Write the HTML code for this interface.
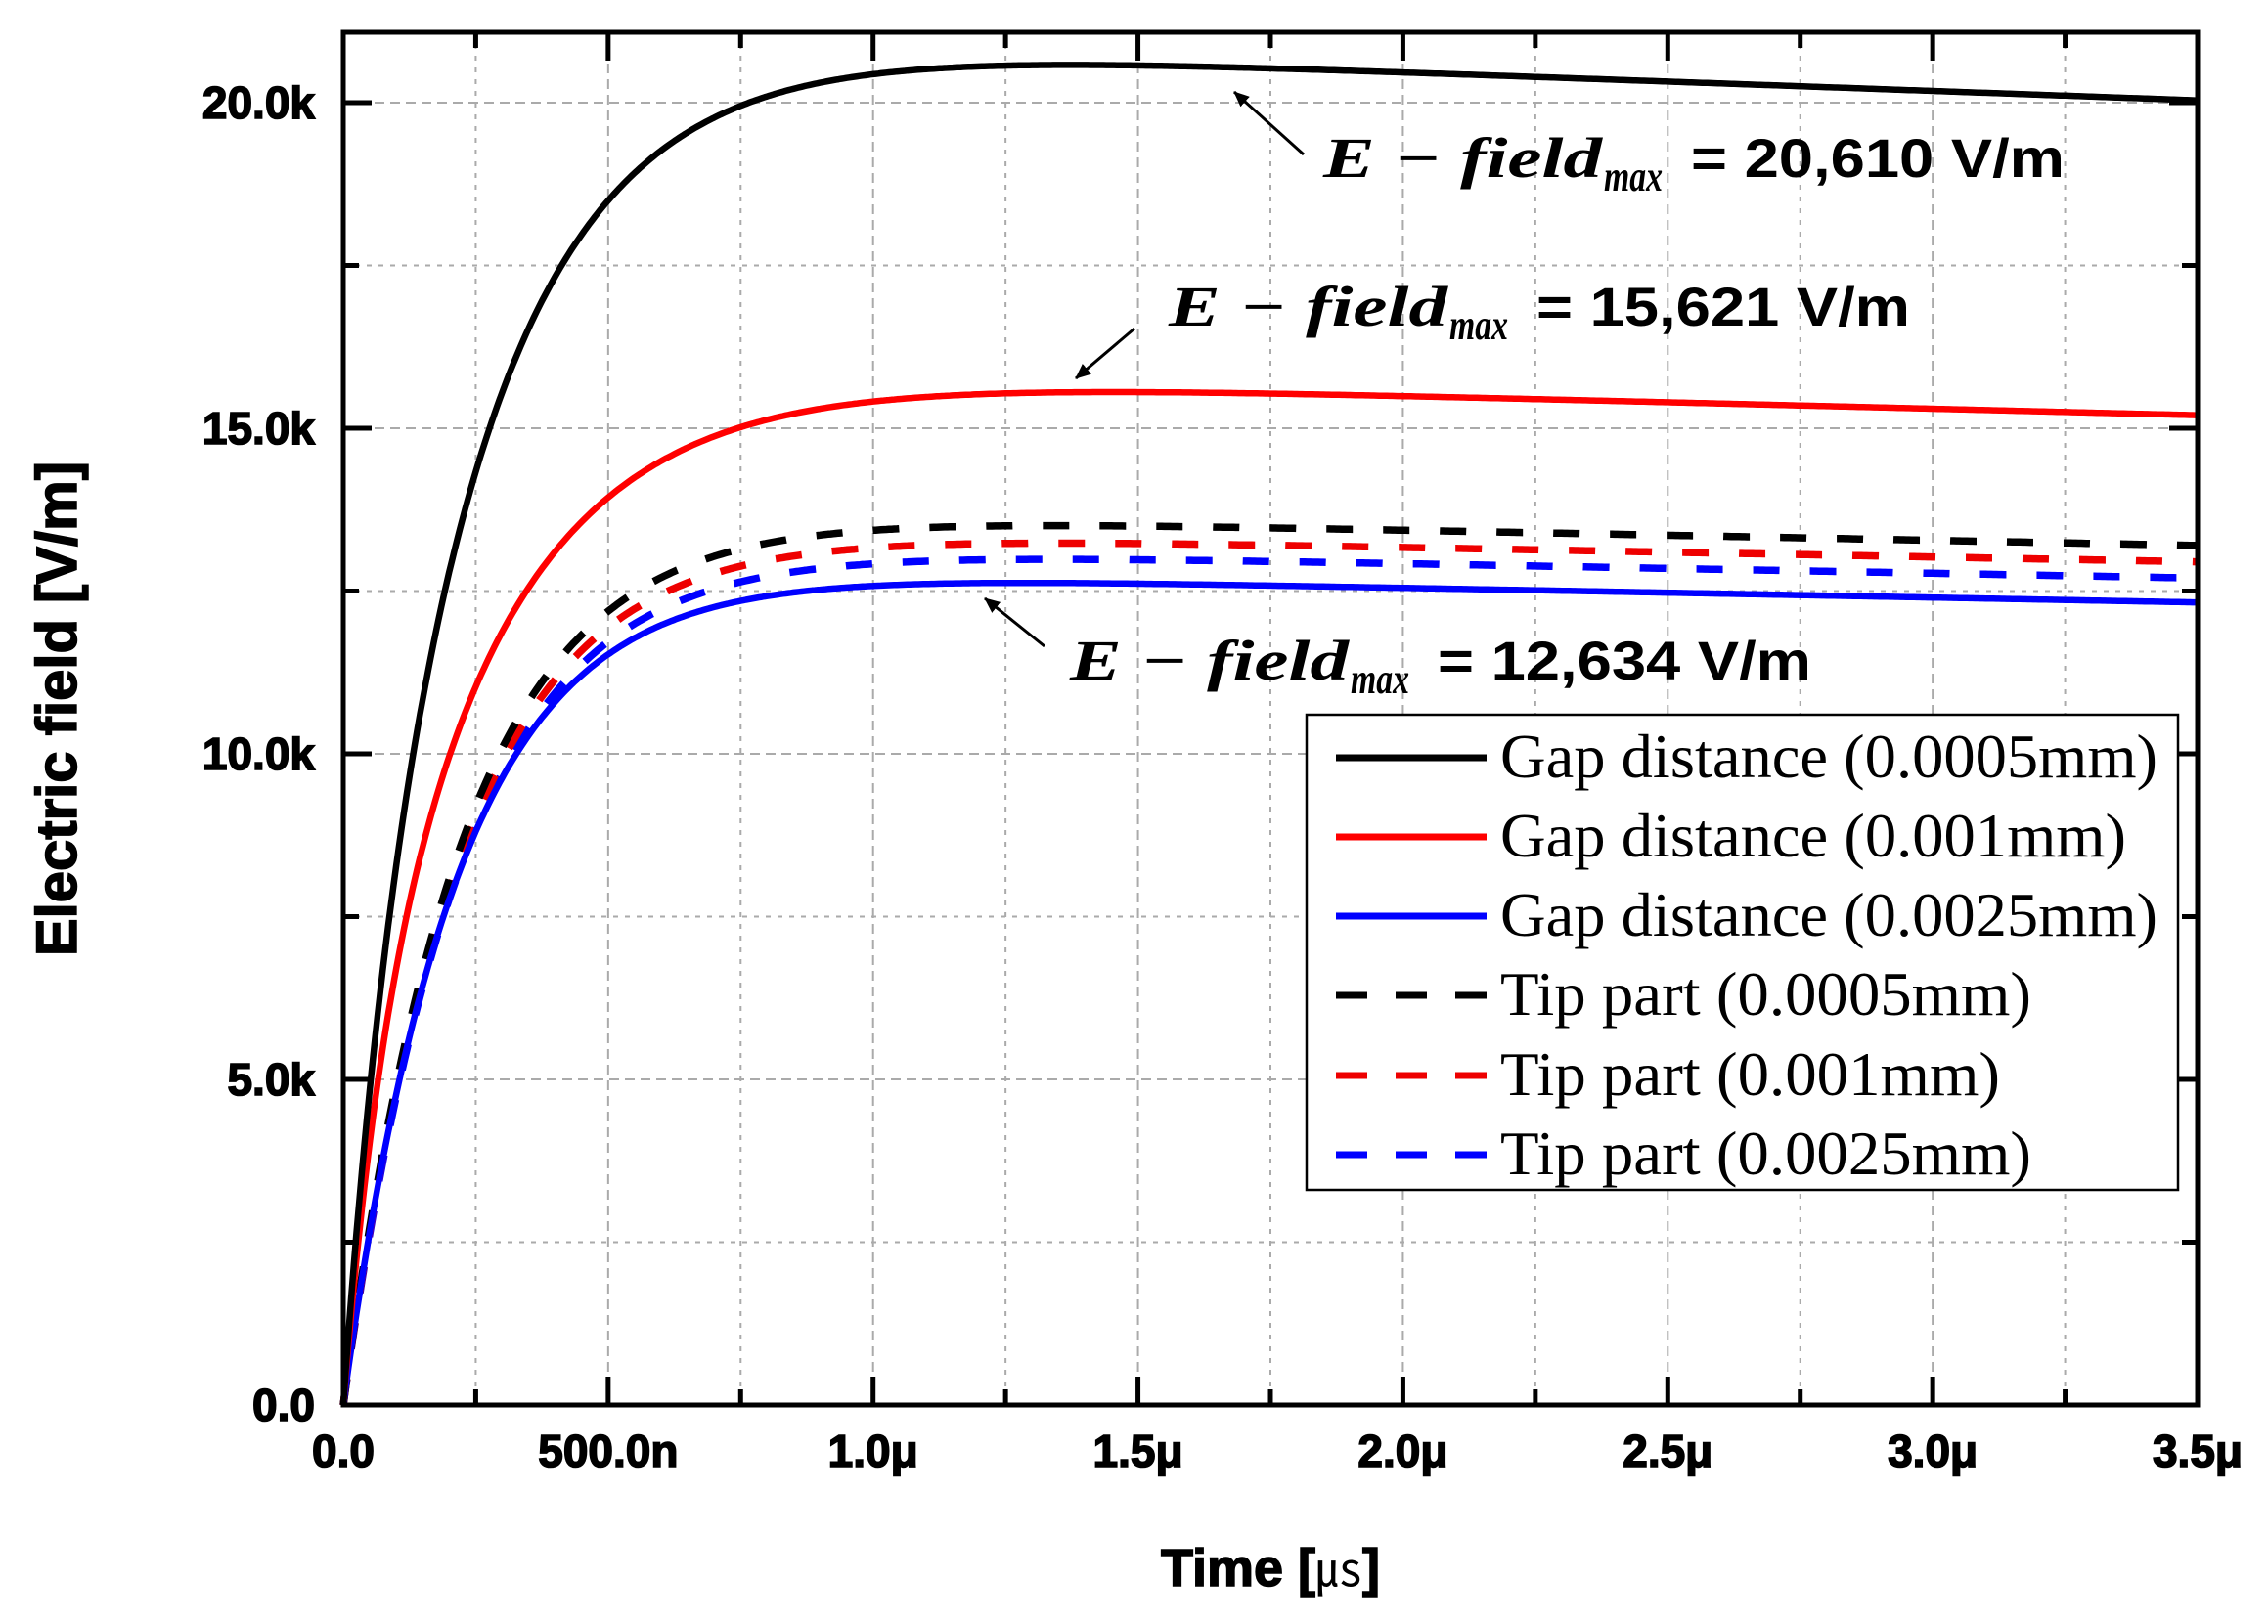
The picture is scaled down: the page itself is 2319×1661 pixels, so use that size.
<!DOCTYPE html>
<html><head><meta charset="utf-8"><style>
html,body{margin:0;padding:0;background:#fff;}
svg{display:block;}
</style></head><body>
<svg id="s" width="2319" height="1661" viewBox="0 0 2319 1661" xmlns="http://www.w3.org/2000/svg">
<rect width="2319" height="1661" fill="#fff"/>
<g id="grid"></g>
<g id="series"></g>
<g id="axes"></g>
<rect x="1336" y="731" width="891" height="486" fill="#fff" stroke="#000" stroke-width="2.5"/>
<g stroke-width="7" fill="none">
<line x1="1366" y1="775" x2="1520" y2="775" stroke="#000"/>
<line x1="1366" y1="856" x2="1520" y2="856" stroke="#f00"/>
<line x1="1366" y1="937" x2="1520" y2="937" stroke="#00f"/>
<line x1="1366" y1="1018" x2="1520" y2="1018" stroke="#000" stroke-dasharray="32,29"/>
<line x1="1366" y1="1100" x2="1520" y2="1100" stroke="#e00" stroke-dasharray="32,29"/>
<line x1="1366" y1="1181" x2="1520" y2="1181" stroke="#00f" stroke-dasharray="32,29"/>
</g>
<g font-family="Liberation Serif, serif" font-size="64" fill="#000">
<text x="1534" y="795" textLength="672" lengthAdjust="spacingAndGlyphs">Gap distance (0.0005mm)</text>
<text x="1534" y="876" textLength="640" lengthAdjust="spacingAndGlyphs">Gap distance (0.001mm)</text>
<text x="1534" y="957" textLength="672" lengthAdjust="spacingAndGlyphs">Gap distance (0.0025mm)</text>
<text x="1534" y="1038" textLength="543" lengthAdjust="spacingAndGlyphs">Tip part (0.0005mm)</text>
<text x="1534" y="1120" textLength="511" lengthAdjust="spacingAndGlyphs">Tip part (0.001mm)</text>
<text x="1534" y="1201" textLength="543" lengthAdjust="spacingAndGlyphs">Tip part (0.0025mm)</text>
</g>
<defs><marker id="ah" markerWidth="16" markerHeight="14" refX="15" refY="7" orient="auto" markerUnits="userSpaceOnUse" viewBox="0 0 16 14"><path d="M0,0 L16,7 L0,14 z" fill="#000"/></marker></defs>
<g stroke="#000" stroke-width="3">
<line x1="1333" y1="158" x2="1262" y2="94" marker-end="url(#ah)" />
<line x1="1160" y1="336" x2="1100" y2="387" marker-end="url(#ah)" />
<line x1="1068" y1="661" x2="1007" y2="612" marker-end="url(#ah)" />
</g>
<g id="ann"></g>
<text x="1299" y="1622" text-anchor="middle" font-family="Liberation Sans, 'Noto Sans CJK KR', sans-serif" font-weight="bold" font-size="54" stroke="#000" stroke-width="1.5">Time [<tspan font-weight="normal" font-size="48" stroke-width="0">㎲</tspan>]</text>
<text transform="translate(78,725) rotate(-90)" text-anchor="middle" font-family="Liberation Sans, sans-serif" font-weight="bold" font-size="58" stroke="#000" stroke-width="1.5">Electric field [V/m]</text>
</svg>
<script>
var NS="http://www.w3.org/2000/svg";
var XR=2247;
function X(t){return 351+(XR-351)/3.5*t;}
function Y(v){return 1437-v*0.0666;}
function el(parent,tag,attrs,txt){var e=document.createElementNS(NS,tag);for(var k in attrs)e.setAttribute(k,attrs[k]);if(txt!==undefined)e.textContent=txt;document.getElementById(parent).appendChild(e);return e;}
for(var i=1;i<14;i++){var x=X(i*0.25);el("grid","line",{x1:x,y1:33,x2:x,y2:1437,stroke:"#aaa","stroke-width":2,"stroke-dasharray":i%2==0?"10,6":"5,7"});}
for(var j=1;j<=9;j++){var y=Y(j*2500);if(y<36)continue;el("grid","line",{x1:351,y1:y,x2:XR,y2:y,stroke:"#aaa","stroke-width":2,"stroke-dasharray":j%2==0?"10,6":"5,7"});}
el("axes","rect",{x:351,y:33,width:XR-351,height:1404,fill:"none",stroke:"#000","stroke-width":5});
for(var i=1;i<14;i++){var x=X(i*0.25),L=i%2==0?29:16;
el("axes","line",{x1:x,y1:1437,x2:x,y2:1437-L,stroke:"#000","stroke-width":5});
el("axes","line",{x1:x,y1:33,x2:x,y2:33+L,stroke:"#000","stroke-width":5});}
for(var j=1;j<=8;j++){var y=Y(j*2500),L=j%2==0?29:16;
el("axes","line",{x1:351,y1:y,x2:351+L,y2:y,stroke:"#000","stroke-width":5});
el("axes","line",{x1:XR,y1:y,x2:XR-L,y2:y,stroke:"#000","stroke-width":5});}
var xl=["0.0","500.0n","1.0\u03bc","1.5\u03bc","2.0\u03bc","2.5\u03bc","3.0\u03bc","3.5\u03bc"];
var lab={"font-family":"Liberation Sans, sans-serif","font-weight":"bold","font-size":46,stroke:"#000","stroke-width":1.6};
function cp(o,e){var r={};for(var k in o)r[k]=o[k];for(var k in e)r[k]=e[k];return r;}
for(var i=0;i<8;i++)el("axes","text",cp(lab,{x:X(i*0.5),y:1500,"text-anchor":"middle"}),xl[i]);
var yl=["0.0","5.0k","10.0k","15.0k","20.0k"];
for(var j=0;j<5;j++)el("axes","text",cp(lab,{x:322,y:Y(j*5000)+16,"text-anchor":"end"}),yl[j]);
function path(P,c,a,t1,t2){var p="";for(var i=0;i<=700;i++){var t=i*0.005;var f=1-a*Math.exp(-t/t1)-(1-a)*Math.exp(-t/t2);var v=(P-c*t)*1000*f;p+=(i?" L":"M")+X(t).toFixed(1)+","+Y(v).toFixed(1);}return p;}
var S=[
{c:"#00f",d:1,f:[13.22,0.149,0,0.1,0.225]},
{c:"#e00",d:1,f:[13.47,0.149,0,0.1,0.225]},
{c:"#000",d:1,f:[13.75,0.157,0,0.1,0.225]},
{c:"#00f",d:0,f:[12.85,0.15,0,0.1,0.215]},
{c:"#f00",d:0,f:[15.9,0.2,0.25,0.07,0.27]},
{c:"#000",d:0,f:[21.05,0.29,0.15,0.07,0.25]}
];
S.forEach(function(s){var a={d:path.apply(null,s.f),fill:"none",stroke:s.c,"stroke-width":s.d?7.5:6.5,"stroke-linejoin":"round"};if(s.d)a["stroke-dasharray"]="27,31";el("series","path",a);});
function ann(x,y,val){
el("ann","text",{x:x,y:y,"font-family":"Liberation Serif, serif","font-style":"italic","font-weight":"bold","font-size":58,"textLength":285,"lengthAdjust":"spacingAndGlyphs"},"E \u2212 field");
el("ann","text",{x:x+287,y:y+14,"font-family":"Liberation Serif, serif","font-style":"italic","font-weight":"bold","font-size":44,"textLength":60,"lengthAdjust":"spacingAndGlyphs"},"max");
el("ann","text",{x:x+376,y:y,"font-family":"Liberation Sans, sans-serif","font-weight":"bold","font-size":56,"textLength":382,"lengthAdjust":"spacingAndGlyphs"},"= "+val+" V/m");}
ann(1353,181,"20,610");ann(1195,333,"15,621");ann(1094,695,"12,634");
</script>
</body></html>
